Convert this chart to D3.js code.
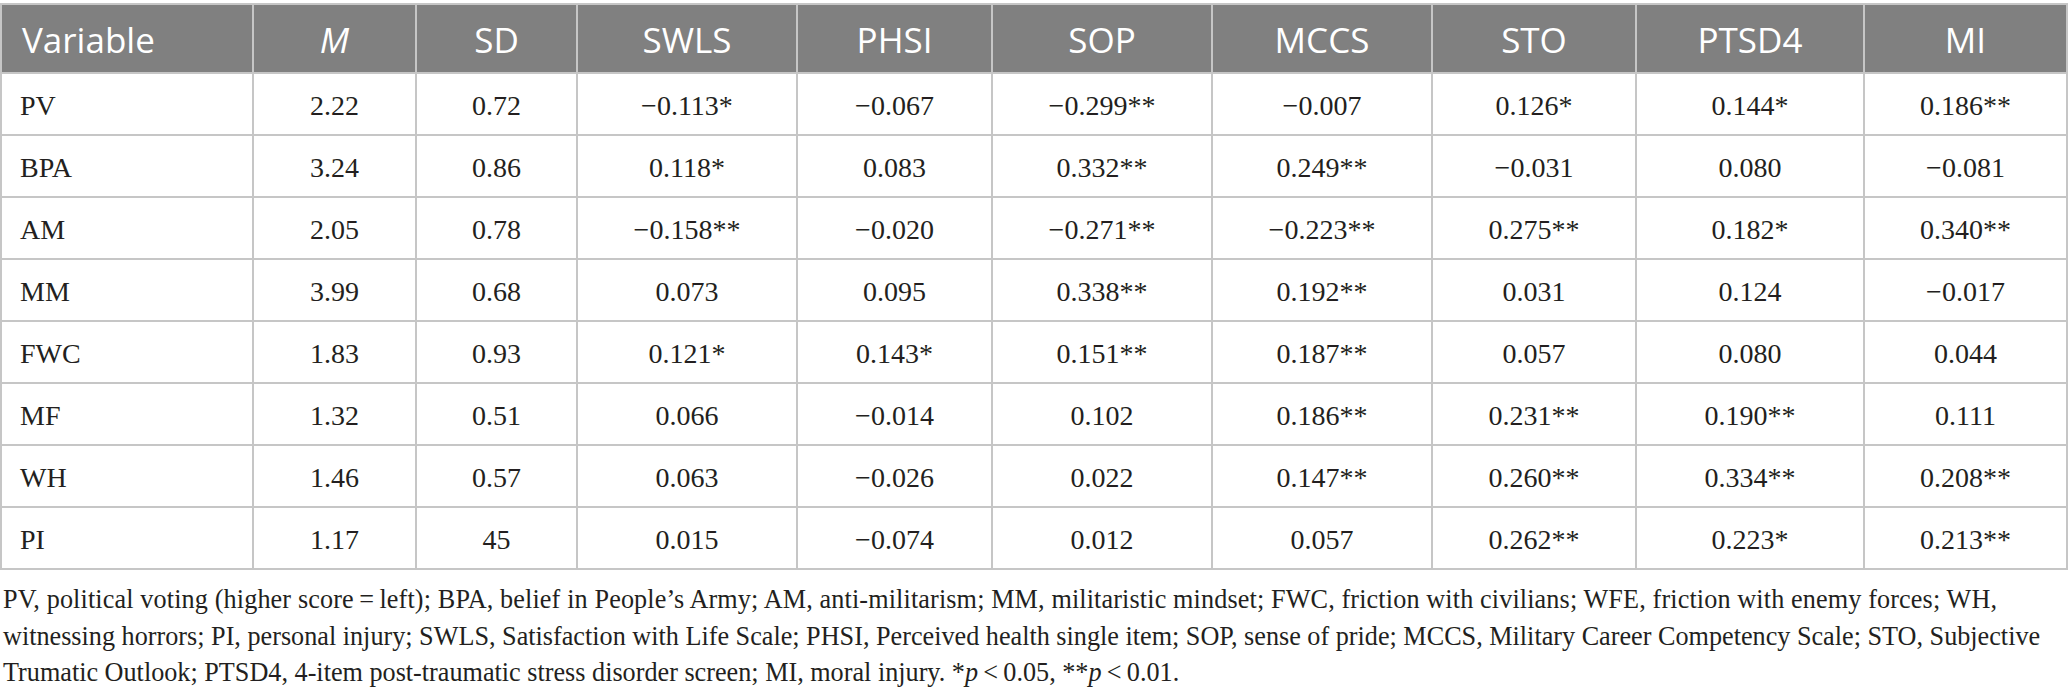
<!DOCTYPE html>
<html>
<head>
<meta charset="utf-8">
<script src="https://cdn.jsdelivr.net/npm/d3@7"></script>
<style>
html,body{margin:0;padding:0;background:#fff;}
svg{display:block;}
</style>
</head>
<body>
<svg id="chart" width="2068" height="699"></svg>
<script>
// ---- data ----
const columns = ["Variable", "M", "SD", "SWLS", "PHSI", "SOP", "MCCS", "STO", "PTSD4", "MI"];
const variables = ["PV", "BPA", "AM", "MM", "FWC", "MF", "WH", "PI"];
const meanValues = [2.22, 3.24, 2.05, 3.99, 1.83, 1.32, 1.46, 1.17];
const sdValues = [0.72, 0.86, 0.78, 0.68, 0.93, 0.51, 0.57, 45];
const swls = [-0.113, 0.118, -0.158, 0.073, 0.121, 0.066, 0.063, 0.015];
const swlsSig = [1, 1, 2, 0, 1, 0, 0, 0];
const phsi = [-0.067, 0.083, -0.020, 0.095, 0.143, -0.014, -0.026, -0.074];
const phsiSig = [0, 0, 0, 0, 1, 0, 0, 0];
const sop = [-0.299, 0.332, -0.271, 0.338, 0.151, 0.102, 0.022, 0.012];
const sopSig = [2, 2, 2, 2, 2, 0, 0, 0];
const mccs = [-0.007, 0.249, -0.223, 0.192, 0.187, 0.186, 0.147, 0.057];
const mccsSig = [0, 2, 2, 2, 2, 2, 2, 0];
const sto = [0.126, -0.031, 0.275, 0.031, 0.057, 0.231, 0.260, 0.262];
const stoSig = [1, 0, 2, 0, 0, 2, 2, 2];
const ptsd4 = [0.144, 0.080, 0.182, 0.124, 0.080, 0.190, 0.334, 0.223];
const ptsd4Sig = [1, 0, 1, 0, 0, 2, 2, 1];
const mi = [0.186, -0.081, 0.340, -0.017, 0.044, 0.111, 0.208, 0.213];
const miSig = [2, 0, 2, 0, 0, 0, 2, 2];
const footnoteLines = [
  [{t: "PV, political voting (higher score\u2009=\u2009left); BPA, belief in People\u2019s Army; AM, anti-militarism; MM, militaristic mindset; FWC, friction with civilians; WFE, friction with enemy forces; WH,"}],
  [{t: "witnessing horrors; PI, personal injury; SWLS, Satisfaction with Life Scale; PHSI, Perceived health single item; SOP, sense of pride; MCCS, Military Career Competency Scale; STO, Subjective"}],
  [{t: "Trumatic Outlook; PTSD4, 4-item post-traumatic stress disorder screen; MI, moral injury. *"}, {t: "p", i: true}, {t: "\u2009<\u20090.05, **"}, {t: "p", i: true}, {t: "\u2009<\u20090.01."}]
];

// ---- layout ----
const W = 2068;
const colEdges = [0, 253, 416, 577, 797, 992, 1212, 1432, 1636, 1864, 2067];
const headTop = 4, headBottom = 73, tableBottom = 569;
const gridColor = "#c6c6c6";

const svg = d3.select("#chart");

const xLeft = d3.scaleOrdinal().domain(columns).range(colEdges.slice(0, -1));
const xRight = d3.scaleOrdinal().domain(columns).range(colEdges.slice(1));
const xMid = c => (xLeft(c) + xRight(c)) / 2;
const y = d3.scaleBand().domain(variables).range([headBottom, tableBottom]).paddingInner(0).paddingOuter(0);

const f3 = d3.format(".3f");
const f2 = d3.format(".2f");
const fsd = v => Number.isInteger(v) ? String(v) : f2(v);
const stars = n => "*".repeat(n);

const corr = {
  SWLS: [swls, swlsSig], PHSI: [phsi, phsiSig], SOP: [sop, sopSig], MCCS: [mccs, mccsSig],
  STO: [sto, stoSig], PTSD4: [ptsd4, ptsd4Sig], MI: [mi, miSig]
};

const cellText = (col, i) => {
  if (col === "Variable") return variables[i];
  if (col === "M") return f2(meanValues[i]);
  if (col === "SD") return fsd(sdValues[i]);
  const [v, s] = corr[col];
  return f3(v[i]) + stars(s[i]);
};

// header background
svg.append("rect")
  .attr("x", 0).attr("y", headTop)
  .attr("width", W).attr("height", headBottom - headTop)
  .attr("fill", "#808080");

// horizontal grid lines
const hLines = [headTop, headBottom].concat(variables.map(v => y(v) + y.bandwidth()));
svg.append("g").selectAll("line").data(hLines).join("line")
  .attr("x1", 0).attr("x2", W)
  .attr("y1", d => d).attr("y2", d => d)
  .attr("stroke", gridColor).attr("stroke-width", 2);

// vertical grid lines
svg.append("g").selectAll("line").data(colEdges).join("line")
  .attr("x1", d => d === 0 ? 1 : d).attr("x2", d => d === 0 ? 1 : d)
  .attr("y1", headTop).attr("y2", tableBottom)
  .attr("stroke", gridColor).attr("stroke-width", 2);

// header texts
svg.append("g").selectAll("text").data(columns).join("text")
  .attr("x", d => d === "Variable" ? 22 : xMid(d))
  .attr("y", 53)
  .attr("text-anchor", d => d === "Variable" ? "start" : "middle")
  .attr("font-family", "'Open Sans', 'Noto Sans', sans-serif")
  .attr("font-size", 35)
  .attr("font-style", d => d === "M" ? "italic" : "normal")
  .attr("fill", "#ffffff")
  .text(d => d);

// body cells
const cells = [];
variables.forEach((v, i) => columns.forEach(c => cells.push({row: v, i, col: c})));
svg.append("g").selectAll("text").data(cells).join("text")
  .attr("x", d => d.col === "Variable" ? 20 : xMid(d.col))
  .attr("y", d => y(d.row) + 42)
  .attr("text-anchor", d => d.col === "Variable" ? "start" : "middle")
  .attr("font-family", "'Liberation Serif', 'DejaVu Serif', serif")
  .attr("font-size", 28)
  .attr("fill", "#231f20")
  .text(d => cellText(d.col, d.i));

// footnote: font size fitted so the lines span the reference widths
const fnY = [608, 645, 681];
const fnTargets = [1994, 2037, 1199];
const fn = svg.append("g")
  .attr("font-family", "'Liberation Serif', 'DejaVu Serif', serif")
  .attr("fill", "#231f20");
const baseSize = 29;
const fnTexts = footnoteLines.map((parts, li) => {
  const t = fn.append("text")
    .attr("x", 3).attr("y", 0)
    .attr("transform", `translate(0,${fnY[li]}) scale(1,1.07)`)
    .attr("font-size", baseSize);
  parts.forEach(p => t.append("tspan").attr("font-style", p.i ? "italic" : "normal").text(p.t));
  return t;
});
const ratios = fnTexts.map((t, i) => fnTargets[i] / t.node().getComputedTextLength());
const fitSize = baseSize * Math.min(ratios[0], ratios[1], 1);
fnTexts.forEach((t, i) => {
  t.attr("font-size", fitSize);
  const natural = t.node().getComputedTextLength();
  if (i < 2 && natural < fnTargets[i]) {
    t.attr("textLength", fnTargets[i]).attr("lengthAdjust", "spacing");
  }
});
</script>
</body>
</html>
